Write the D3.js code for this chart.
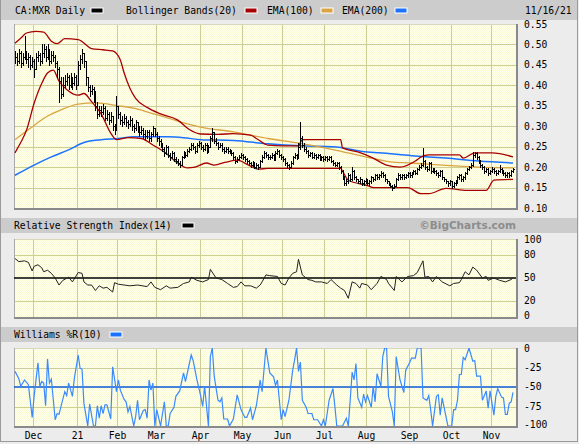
<!DOCTYPE html>
<html><head><meta charset="utf-8">
<script src="https://cdn.jsdelivr.net/npm/d3@7/dist/d3.min.js"></script>
<style>body{margin:0;background:#ececec}svg{display:block}</style>
</head><body><svg id="c" width="579" height="444"></svg>
<script>
// ---- DATA (prices in thousandths of CAD) ----
const closes = [470,460,480,455,470,480,465,470,450,460,
440,470,475,460,480,490,470,485,460,475,
470,455,440,410,380,400,410,420,400,415,
405,420,400,450,465,480,460,420,395,385,
390,380,350,330,340,335,345,320,330,315,
325,300,290,350,330,315,310,320,310,305,
315,300,295,310,295,285,290,280,275,285,
270,280,295,280,270,265,255,245,235,250,
230,225,235,220,215,210,205,225,235,230,
240,245,255,250,240,255,260,250,245,255,
240,250,270,285,265,260,250,255,245,240,
245,240,240,235,225,215,220,225,230,225,
220,215,210,205,210,200,205,200,215,225,
235,230,225,225,230,220,235,240,230,225,
220,210,205,200,210,225,230,225,250,270,
255,245,240,230,235,225,230,225,230,220,
225,220,225,220,225,215,210,205,210,200,
190,175,160,165,180,170,190,175,170,165,
170,160,165,170,160,165,175,170,180,175,
180,185,180,170,165,160,155,150,155,170,
180,175,180,175,180,185,180,185,190,185,
195,200,205,215,200,195,210,190,195,190,
185,180,190,175,170,165,160,165,155,160,
165,175,180,170,175,185,195,200,205,230,
235,225,215,205,200,190,195,185,190,195,
190,185,190,195,190,185,180,185,180,190,
195];
const highs = [485,480,490,485,480,520,485,480,475,470,
465,480,485,480,500,500,495,500,490,485,
485,475,460,445,420,420,425,430,425,430,
420,430,425,460,475,490,480,460,420,400,
400,395,385,360,350,350,355,350,340,335,
335,325,305,375,350,335,325,330,325,315,
325,320,305,315,310,300,300,295,290,290,
290,285,300,295,285,275,268,260,250,255,
252,235,240,238,225,220,215,228,240,238,
245,250,260,258,252,260,265,262,255,260,
258,255,275,295,285,270,262,260,258,248,
250,248,245,242,238,228,225,230,235,232,
228,222,218,212,215,212,210,208,218,230,
240,238,232,230,235,232,240,245,242,232,
228,222,212,208,215,228,235,232,260,310,
275,260,248,242,238,237,235,232,233,232,
228,227,228,227,228,226,218,212,213,212,
202,192,178,170,185,182,200,192,178,172,
175,172,168,173,172,168,178,177,183,182,
183,190,187,182,172,167,162,157,158,173,
185,182,183,182,183,188,187,188,193,192,
198,205,210,246,217,203,213,212,198,197,
192,187,193,192,177,172,167,168,167,163,
168,178,183,182,178,188,198,203,210,237,
238,237,227,217,208,202,198,197,193,200,
197,192,193,205,197,192,187,188,187,193,
198];
const lows = [455,450,455,445,450,465,455,445,440,445,
420,440,460,450,455,470,460,465,450,455,
460,445,420,360,370,375,395,400,390,395,
390,400,390,400,440,455,445,400,385,375,
380,360,340,320,325,325,330,315,315,305,
310,290,280,290,320,305,300,305,300,295,
300,290,285,290,285,275,280,270,268,270,
265,265,275,275,265,255,248,240,228,232,
225,218,222,215,210,205,200,205,222,225,
228,238,242,245,235,238,250,245,240,242,
235,238,248,265,260,255,245,248,240,235,
238,235,235,230,220,210,212,218,222,220,
215,210,205,200,202,197,198,196,200,212,
222,225,220,220,222,217,218,232,225,220,
215,205,200,196,198,208,222,220,222,245,
250,240,235,225,228,222,222,220,222,217,
218,216,218,216,218,212,206,202,203,196,
185,170,156,157,162,166,168,170,165,160,
162,156,157,162,156,157,162,166,168,172,
172,177,176,166,161,156,151,145,148,153,
168,172,172,172,173,177,176,177,182,182,
183,192,198,203,196,191,193,186,187,186,
181,176,178,171,166,161,155,157,150,152,
157,162,172,166,167,172,182,192,198,203,
225,220,210,200,196,186,187,181,182,187,
186,181,182,187,186,181,176,177,176,178,
187];
// indicator readings: [trading-day index, value]
const bbUpper = [[0,503],[3,515],[6,528],[11,532],[15,530],[19,508],[22,502],[26,514],[33,512],[40,490],[46,487],[51,484],[55,462],[57,430],[60,393],[63,368],[69,346],[76,330],[85,315],[91,292],[97,281],[106,280],[114,282],[123,278],[127,267],[132,254],[140,252],[148,252],[150,267],[170,267],[171,247],[179,237],[187,222],[194,205],[201,200],[209,215],[212,225],[216,230],[232,230],[234,222],[240,235],[249,235],[260,225]];
const bbLower = [[0,235],[3,260],[6,290],[10,356],[14,405],[17,430],[20,437],[23,410],[27,390],[33,376],[36,380],[40,360],[45,330],[50,283],[53,267],[59,272],[66,270],[72,254],[78,237],[85,210],[90,198],[94,200],[100,210],[104,205],[110,212],[116,217],[122,205],[127,195],[132,197],[170,197],[171,190],[174,168],[184,155],[187,150],[205,150],[212,135],[216,135],[225,148],[236,143],[246,143],[250,168],[260,170]];
const ema100 = [[0,267],[8,295],[16,322],[24,340],[33,354],[42,357],[54,350],[62,344],[71,332],[80,320],[88,308],[97,298],[114,286],[132,270],[149,258],[166,243],[184,224],[196,213],[207,210],[225,204],[242,200],[260,198]];
const ema200 = [[0,180],[10,205],[19,225],[28,242],[36,260],[45,267],[54,270],[62,274],[71,274],[80,274],[88,272],[97,267],[114,265],[132,257],[149,252],[166,250],[184,237],[190,235],[207,228],[225,222],[242,215],[260,210]];
const rsi = [[0,75],[2,71],[5,72],[7,70],[9,59],[10,65],[12,67],[14,63],[15,58],[17,60],[19,56],[21,50],[23,41],[25,47],[28,51],[30,45],[33,57],[35,56],[36,45],[38,41],[40,41],[42,34],[44,40],[46,37],[48,38],[51,32],[52,44],[54,42],[57,41],[60,40],[64,41],[69,39],[71,45],[73,38],[76,35],[79,40],[81,37],[85,38],[88,43],[91,45],[92,51],[95,47],[98,45],[101,48],[102,61],[105,50],[108,48],[111,43],[114,38],[116,39],[118,45],[120,40],[123,40],[126,37],[128,41],[129,45],[131,54],[133,53],[137,52],[139,43],[141,41],[143,50],[145,56],[147,58],[148,74],[150,54],[153,48],[155,47],[157,45],[160,45],[163,43],[165,48],[168,41],[170,37],[172,34],[174,24],[176,45],[178,43],[180,37],[181,43],[184,41],[186,35],[189,43],[191,52],[194,48],[195,43],[198,34],[199,52],[202,45],[205,52],[208,53],[210,57],[213,72],[214,51],[216,52],[218,45],[220,52],[223,45],[227,40],[229,43],[232,44],[233,48],[235,58],[237,54],[239,64],[241,60],[244,50],[246,52],[247,47],[250,50],[253,47],[256,45],[259,48],[260,50]];
const willR = [[0,-30],[2,-39],[3,-49],[5,-41],[7,-47],[9,-89],[10,-62],[12,-19],[13,-49],[14,-43],[15,-45],[16,-74],[17,-14],[18,-45],[19,-40],[21,-92],[22,-84],[23,-85],[26,-56],[27,-61],[28,-45],[30,-62],[31,-39],[33,-9],[34,-26],[35,-27],[36,-71],[38,-100],[39,-72],[41,-100],[42,-100],[43,-74],[44,-90],[45,-74],[46,-84],[47,-73],[48,-73],[50,-91],[51,-24],[53,-56],[54,-41],[55,-54],[57,-66],[58,-69],[59,-82],[60,-75],[62,-100],[63,-88],[64,-67],[65,-92],[67,-80],[68,-79],[69,-90],[70,-41],[71,-54],[72,-45],[73,-100],[74,-79],[76,-100],[78,-69],[79,-100],[80,-100],[81,-84],[83,-76],[84,-62],[86,-55],[88,-32],[89,-43],[92,-9],[93,-16],[95,-41],[97,-62],[98,-75],[99,-49],[101,-100],[102,-11],[103,0],[104,-36],[106,-67],[107,-69],[108,-64],[109,-91],[111,-91],[112,-100],[114,-91],[116,-60],[118,-79],[120,-89],[121,-89],[123,-77],[124,-92],[126,-74],[128,-41],[129,-56],[131,0],[133,-32],[135,-37],[136,-48],[137,-41],[139,-92],[140,-79],[141,-88],[143,-67],[145,-28],[146,-15],[147,0],[148,-30],[149,-18],[150,-67],[152,-76],[153,-84],[155,-84],[156,-92],[158,-92],[160,-100],[161,-92],[162,-100],[164,-67],[166,-52],[167,-75],[168,-100],[169,-100],[171,-100],[173,-90],[174,-100],[175,-67],[176,-31],[177,-41],[178,-20],[179,-64],[181,-76],[182,-59],[183,-69],[184,-61],[186,-76],[187,-49],[188,-69],[189,-33],[191,-49],[192,-11],[193,0],[194,0],[195,-62],[197,-82],[198,-100],[199,-11],[201,-41],[203,-57],[204,-28],[206,-19],[207,-13],[209,-13],[210,0],[212,0],[213,-64],[215,-67],[216,-61],[217,-79],[218,-100],[220,-62],[221,-60],[222,-86],[223,-64],[225,-88],[226,-100],[228,-100],[229,-79],[230,-79],[231,-67],[232,-34],[233,-34],[234,-12],[235,-15],[237,0],[239,-17],[240,-16],[241,-36],[243,-36],[244,-67],[246,-55],[247,-77],[248,-55],[250,-86],[251,-62],[252,-52],[254,-63],[255,-64],[256,-85],[257,-85],[258,-71],[259,-69],[260,-57]];
const monthLabels = ["Dec","21","Feb","Mar","Apr","May","Jun","Jul","Aug","Sep","Oct","Nov"];
const priceTicks = [100,150,200,250,300,350,400,450,500,550];
const priceTickLabels = ["0.10","0.15","0.20","0.25","0.30","0.35","0.40","0.45","0.50","0.55"];
const rsiTicks = [0,20,50,80,100];
const wrTicks = [0,-25,-50,-75,-100];

// ---- CALENDAR (weekdays Nov 17 2020 .. Nov 16 2021) ----
const days = [];
for (let d = new Date(2020,10,17); d <= new Date(2021,10,16); d.setDate(d.getDate()+1)) {
  if (d.getDay() !== 0 && d.getDay() !== 6) days.push(new Date(d));
}
const monthStarts = [];
days.forEach((d,i) => { if (i>0 && d.getMonth() !== days[i-1].getMonth()) monthStarts.push(i); });

const svg = d3.select('#c');
const FONT = "'DejaVu Sans Mono', monospace";
const defs = svg.append('defs');
const pat = defs.append('pattern').attr('id','dots').attr('width',2).attr('height',2).attr('patternUnits','userSpaceOnUse');
pat.append('rect').attr('width',2).attr('height',2).attr('fill','#fffff2');
pat.append('rect').attr('width',1).attr('height',1).attr('fill','#fafad0');
pat.append('rect').attr('x',1).attr('y',1).attr('width',1).attr('height',1).attr('fill','#fafad0');

svg.append('rect').attr('width',579).attr('height',444).attr('fill','#ececec');
svg.append('rect').attr('x',0.5).attr('y',0.5).attr('width',577).attr('height',441).attr('fill','none').attr('stroke','#9a9a9a');

const L = 14, R = 516;
const x = d3.scaleLinear().domain([-0.5, days.length-0.5]).range([L, 514]);

function headerBar(y0, h) {
  svg.append('rect').attr('x',1).attr('y',y0).attr('width',576).attr('height',h).attr('fill','#cccccc');
}
function txt(t, xx, yy, opts={}) {
  return svg.append('text').attr('x',xx).attr('y',yy).attr('font-family',opts.family||FONT)
    .attr('font-size',opts.size||9.7).attr('fill',opts.fill||'#000')
    .attr('font-weight',opts.weight||'normal').attr('text-anchor',opts.anchor||'start')
    .attr('dominant-baseline','middle').text(t);
}
function swatch(xx, yy, c) {
  svg.append('rect').attr('x',xx).attr('y',yy).attr('width',12).attr('height',5).attr('fill',c)
    .attr('stroke','#fff').attr('stroke-width',1);
}
function panel(top, bottom, y, gridVals, id) {
  const g = svg.append('g');
  g.append('rect').attr('x',L).attr('y',top).attr('width',R-L).attr('height',bottom-top).attr('fill','url(#dots)');
  monthStarts.forEach(i => {
    const xx = Math.round(x(i-0.5))+0.5;
    g.append('line').attr('x1',xx).attr('x2',xx).attr('y1',top).attr('y2',bottom).attr('stroke','#cdcd98');
  });
  gridVals.forEach(v => {
    const yy = Math.round(y(v))+0.5;
    g.append('line').attr('x1',L).attr('x2',R).attr('y1',yy).attr('y2',yy).attr('stroke','#cdcd98');
  });
  defs.append('clipPath').attr('id',id).append('rect').attr('x',L).attr('y',top).attr('width',R-L).attr('height',bottom-top);
  g.append('line').attr('x1',L).attr('x2',R).attr('y1',top+0.5).attr('y2',top+0.5).attr('stroke','#d8d8b8');
  g.append('line').attr('x1',L+0.5).attr('x2',L+0.5).attr('y1',top).attr('y2',bottom).attr('stroke','#a8a8a8');
  g.append('rect').attr('x',L).attr('y',bottom).attr('width',R-L+2).attr('height',2).attr('fill','#8a8a8a');
  g.append('rect').attr('x',R).attr('y',top).attr('width',2).attr('height',bottom-top+2).attr('fill','#8a8a8a');
  return g;
}

// ---- MAIN PANEL ----
headerBar(0, 20);
txt('CA:MXR Daily', 15, 10.5); swatch(91, 8, '#000');
txt('Bollinger Bands(20)', 126, 10.5); swatch(245, 8, '#a80000');
txt('EMA(100)', 267, 10.5); swatch(321, 8, '#d9a441');
txt('EMA(200)', 342, 10.5); swatch(395, 8, '#1a72ff');
txt('11/16/21', 525, 10.5);

const yP = d3.scaleLinear().domain([100,550]).range([208,24]);
panel(24, 208, yP, priceTicks.slice(1,-1), 'clipMain');
const gm = svg.append('g').attr('clip-path','url(#clipMain)');
const lineP = d3.line().x(d=>x(d[0])).y(d=>yP(d[1])).curve(d3.curveMonotoneX);
gm.append('path').attr('d',lineP(ema200)).attr('fill','none').attr('stroke','#1a72ff').attr('stroke-width',1.5);
gm.append('path').attr('d',lineP(ema100)).attr('fill','none').attr('stroke','#d9a441').attr('stroke-width',1.3);
gm.append('path').attr('d',lineP(bbUpper)).attr('fill','none').attr('stroke','#a80000').attr('stroke-width',1.3);
gm.append('path').attr('d',lineP(bbLower)).attr('fill','none').attr('stroke','#a80000').attr('stroke-width',1.3);
const bars = gm.append('g').attr('shape-rendering','crispEdges');
closes.forEach((c,i) => {
  const xx = Math.round(x(i))+0.5;
  bars.append('line').attr('x1',xx).attr('x2',xx).attr('y1',Math.round(yP(highs[i]))).attr('y2',Math.round(yP(lows[i]))+1).attr('stroke','#000');
  const yc = Math.round(yP(c))+0.5;
  bars.append('line').attr('x1',xx).attr('x2',xx+1.5).attr('y1',yc).attr('y2',yc).attr('stroke','#000');
});
priceTicks.forEach((v,k) => txt(priceTickLabels[k], 524, yP(v)+0.5));

// ---- RSI PANEL ----
headerBar(218, 15);
txt('Relative Strength Index(14)', 14, 226); swatch(182, 223, '#000');
txt('\u00A9BigCharts.com', 516, 226, {family:"'DejaVu Sans', Verdana, sans-serif", size:10.5, weight:'bold', fill:'#8c8c8c', anchor:'end'});
const yR = d3.scaleLinear().domain([0,100]).range([317,239]);
panel(239, 317, yR, [20,80], 'clipRsi');
const gr = svg.append('g').attr('clip-path','url(#clipRsi)');
gr.append('line').attr('x1',L).attr('x2',R).attr('y1',yR(50)).attr('y2',yR(50)).attr('stroke','#000').attr('stroke-width',1.4);
gr.append('path').attr('d', d3.line().x(d=>x(d[0])).y(d=>yR(d[1]))(rsi)).attr('fill','none').attr('stroke','#222').attr('stroke-width',1);
rsiTicks.forEach(v => txt(String(v), 524, Math.min(Math.max(yR(v),240),316)));

// ---- WILLIAMS PANEL ----
headerBar(327, 15);
txt('Williams %R(10)', 14, 335); swatch(110, 332, '#1a72ff');
const yW = d3.scaleLinear().domain([-100,0]).range([426,348]);
panel(348, 426, yW, [-25,-75], 'clipWr');
const gw = svg.append('g').attr('clip-path','url(#clipWr)');
gw.append('line').attr('x1',L).attr('x2',R).attr('y1',yW(-50)).attr('y2',yW(-50)).attr('stroke','#0a5ad6').attr('stroke-width',1.4);
gw.append('path').attr('d', d3.line().x(d=>x(d[0])).y(d=>yW(d[1]))(willR)).attr('fill','none').attr('stroke','#3a8aff').attr('stroke-width',1.2);
wrTicks.forEach(v => txt(String(v), 524, Math.min(Math.max(yW(v),349),425)));

// ---- X AXIS LABELS ----
monthStarts.forEach((i,k) => txt(monthLabels[k], Math.round(x(i-0.5))+0.5, 435.5, {anchor:'middle'}));
</script></body></html>
